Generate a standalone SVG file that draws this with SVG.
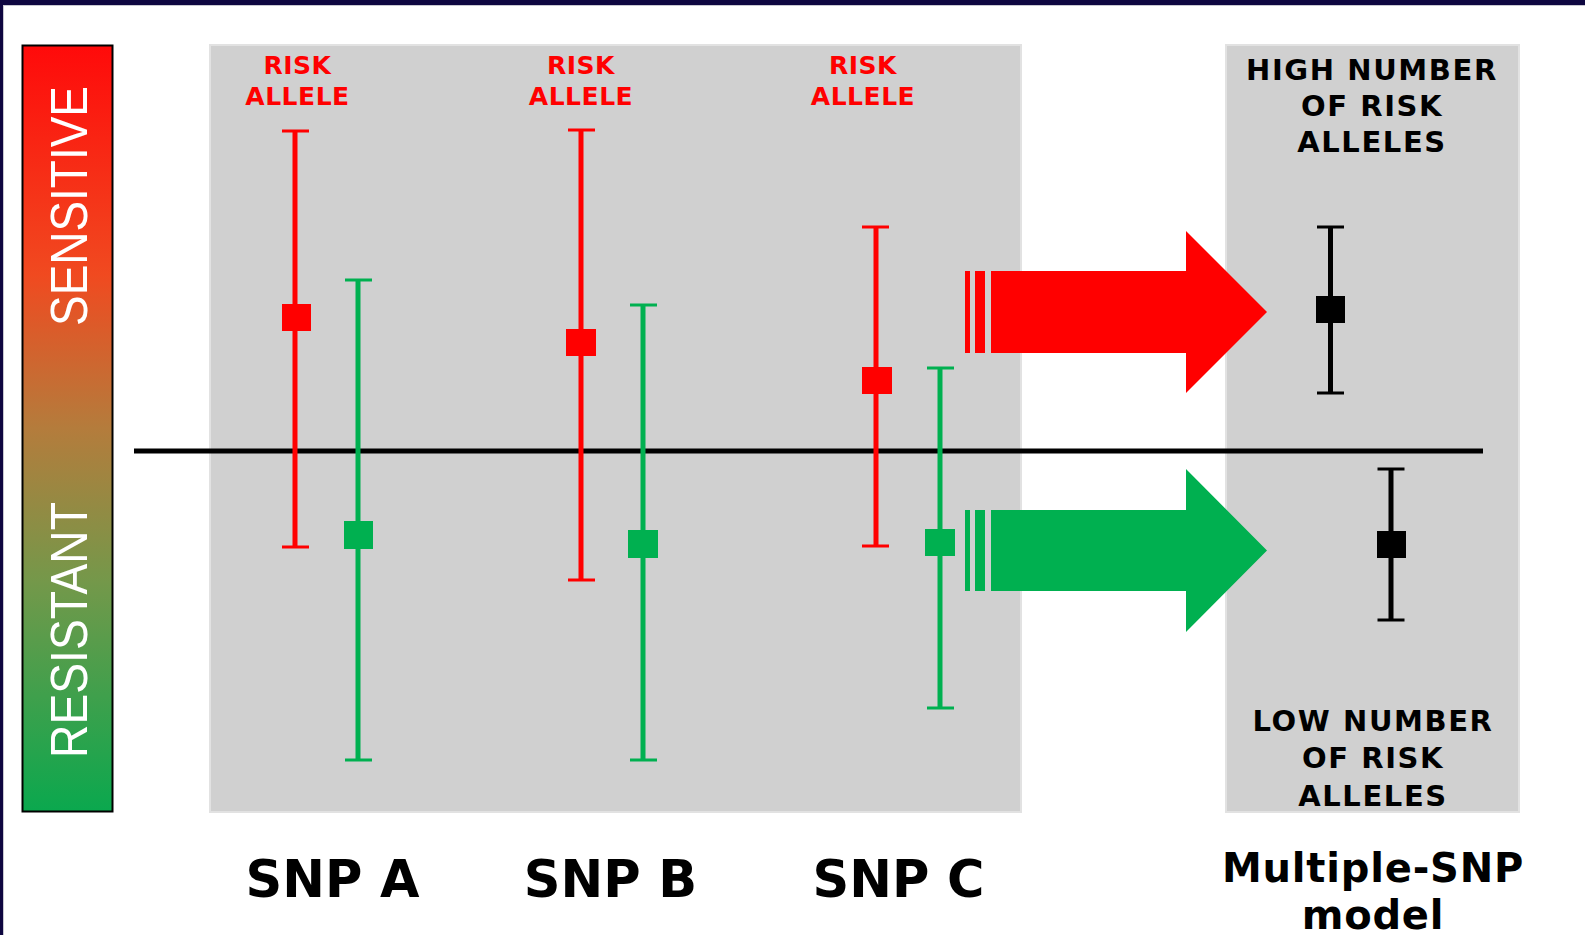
<svg xmlns="http://www.w3.org/2000/svg" width="1585" height="935" viewBox="0 0 1585 935">
<defs>
<linearGradient id="scale" x1="0" y1="0" x2="0" y2="1">
<stop offset="0" stop-color="#ff0a0a"/>
<stop offset="0.3" stop-color="#f04a20"/>
<stop offset="0.5" stop-color="#b47c3c"/>
<stop offset="0.7" stop-color="#74984a"/>
<stop offset="1" stop-color="#0aa84e"/>
</linearGradient>
</defs>
<style>
.panel{fill:#d0d0d0;stroke:#e2e2e2;stroke-width:2}
.bar{stroke-width:5;fill:none}
.cap{stroke-width:3;fill:none}
.red{stroke:#ff0000}
.grn{stroke:#00b050}
.blk{stroke:#000000}
.risk{font-family:"DejaVu Sans",sans-serif;font-weight:bold;font-size:25px;fill:#ff0000;text-anchor:middle;letter-spacing:0.5px}
.num{font-family:"DejaVu Sans",sans-serif;font-weight:bold;font-size:29px;fill:#000;text-anchor:middle;letter-spacing:1.6px}
.snp{font-family:"DejaVu Sans",sans-serif;font-weight:bold;font-size:51px;fill:#000;text-anchor:middle}
.model{font-family:"DejaVu Sans",sans-serif;font-weight:bold;font-size:40px;fill:#000;text-anchor:middle;letter-spacing:0.8px}
.side{font-family:"Liberation Sans",Arial,sans-serif;font-size:52px;fill:#ffffff;text-anchor:middle}
</style>
<rect x="0" y="0" width="1585" height="935" fill="#ffffff"/>
<rect x="0" y="0" width="1585" height="5" fill="#0e0640"/>
<rect x="0" y="0" width="3" height="935" fill="#0e0640"/>
<rect x="3" y="5" width="1582" height="1" fill="#c8c8d0"/>
<rect x="3" y="5" width="1" height="930" fill="#c8c8d0"/>

<g id="scale-bar">
<rect x="22.5" y="45.5" width="90" height="766" fill="url(#scale)" stroke="#000" stroke-width="2"/>
<text class="side" transform="translate(87,206) rotate(-90)" textLength="240" lengthAdjust="spacingAndGlyphs">SENSITIVE</text>
<text class="side" transform="translate(87,630) rotate(-90)" textLength="256" lengthAdjust="spacingAndGlyphs">RESISTANT</text>
</g>

<g id="panel-snps"><rect class="panel" x="210" y="45" width="811" height="767"/></g>
<g id="panel-model"><rect class="panel" x="1226" y="45" width="293" height="767"/></g>

<g id="baseline"><line x1="134" y1="451" x2="1483" y2="451" stroke="#000" stroke-width="5"/></g>

<g id="snpA-risk">
<text class="risk" x="297.5" y="74">RISK</text>
<text class="risk" x="297.5" y="105">ALLELE</text>
<line class="bar red" x1="295" y1="131" x2="295" y2="547"/>
<line class="cap red" x1="282" y1="131" x2="309" y2="131"/>
<line class="cap red" x1="282" y1="547" x2="309" y2="547"/>
<rect x="282" y="304" width="29" height="27" fill="#ff0000"/>
</g>
<g id="snpA-other">
<line class="bar grn" x1="358" y1="280" x2="358" y2="760"/>
<line class="cap grn" x1="345" y1="280" x2="372" y2="280"/>
<line class="cap grn" x1="345" y1="760" x2="372" y2="760"/>
<rect x="344" y="521" width="29" height="28" fill="#00b050"/>
</g>

<g id="snpB-risk">
<text class="risk" x="581" y="74">RISK</text>
<text class="risk" x="581" y="105">ALLELE</text>
<line class="bar red" x1="581" y1="130" x2="581" y2="580"/>
<line class="cap red" x1="568" y1="130" x2="595" y2="130"/>
<line class="cap red" x1="568" y1="580" x2="595" y2="580"/>
<rect x="566" y="329" width="30" height="27" fill="#ff0000"/>
</g>
<g id="snpB-other">
<line class="bar grn" x1="643" y1="305" x2="643" y2="760"/>
<line class="cap grn" x1="630" y1="305" x2="657" y2="305"/>
<line class="cap grn" x1="630" y1="760" x2="657" y2="760"/>
<rect x="628" y="530" width="30" height="28" fill="#00b050"/>
</g>

<g id="snpC-risk">
<text class="risk" x="863" y="74">RISK</text>
<text class="risk" x="863" y="105">ALLELE</text>
<line class="bar red" x1="876" y1="227" x2="876" y2="546"/>
<line class="cap red" x1="862" y1="227" x2="889" y2="227"/>
<line class="cap red" x1="862" y1="546" x2="889" y2="546"/>
<rect x="862" y="367" width="30" height="27" fill="#ff0000"/>
</g>
<g id="snpC-other">
<line class="bar grn" x1="940" y1="368" x2="940" y2="708"/>
<line class="cap grn" x1="927" y1="368" x2="954" y2="368"/>
<line class="cap grn" x1="927" y1="708" x2="954" y2="708"/>
<rect x="925" y="529" width="30" height="27" fill="#00b050"/>
</g>

<g id="model-high">
<text class="num" x="1372" y="80">HIGH NUMBER</text>
<text class="num" x="1372" y="116">OF RISK</text>
<text class="num" x="1372" y="152">ALLELES</text>
<line class="bar blk" x1="1330.5" y1="227" x2="1330.5" y2="393"/>
<line class="cap blk" x1="1317" y1="227" x2="1344" y2="227"/>
<line class="cap blk" x1="1317" y1="393" x2="1344" y2="393"/>
<rect x="1316" y="296" width="29" height="27" fill="#000"/>
</g>
<g id="model-low">
<line class="bar blk" x1="1391" y1="469" x2="1391" y2="620"/>
<line class="cap blk" x1="1377.5" y1="469" x2="1404.5" y2="469"/>
<line class="cap blk" x1="1377.5" y1="620" x2="1404.5" y2="620"/>
<rect x="1377" y="531" width="29" height="27" fill="#000"/>
<text class="num" x="1373" y="731">LOW NUMBER</text>
<text class="num" x="1373" y="768">OF RISK</text>
<text class="num" x="1373" y="806">ALLELES</text>
</g>

<g id="labels">
<text class="snp" x="332.5" y="897">SNP A</text>
<text class="snp" x="610.5" y="897">SNP B</text>
<text class="snp" x="898.5" y="897">SNP C</text>
<text class="model" x="1373" y="882">Multiple-SNP</text>
<text class="model" x="1373" y="929">model</text>
</g>

<g id="connectors">
<g id="arrow-high" fill="#ff0000">
<rect x="965" y="271" width="5" height="82"/>
<rect x="975" y="271" width="10" height="82"/>
<polygon points="991,271 1186,271 1186,231 1267,312 1186,393 1186,353 991,353"/>
</g>
<g id="arrow-low" fill="#00b050">
<rect x="965" y="510" width="5" height="81"/>
<rect x="975" y="510" width="10" height="81"/>
<polygon points="991,510 1186,510 1186,469 1267,550.5 1186,632 1186,591 991,591"/>
</g>
</g>
</svg>
